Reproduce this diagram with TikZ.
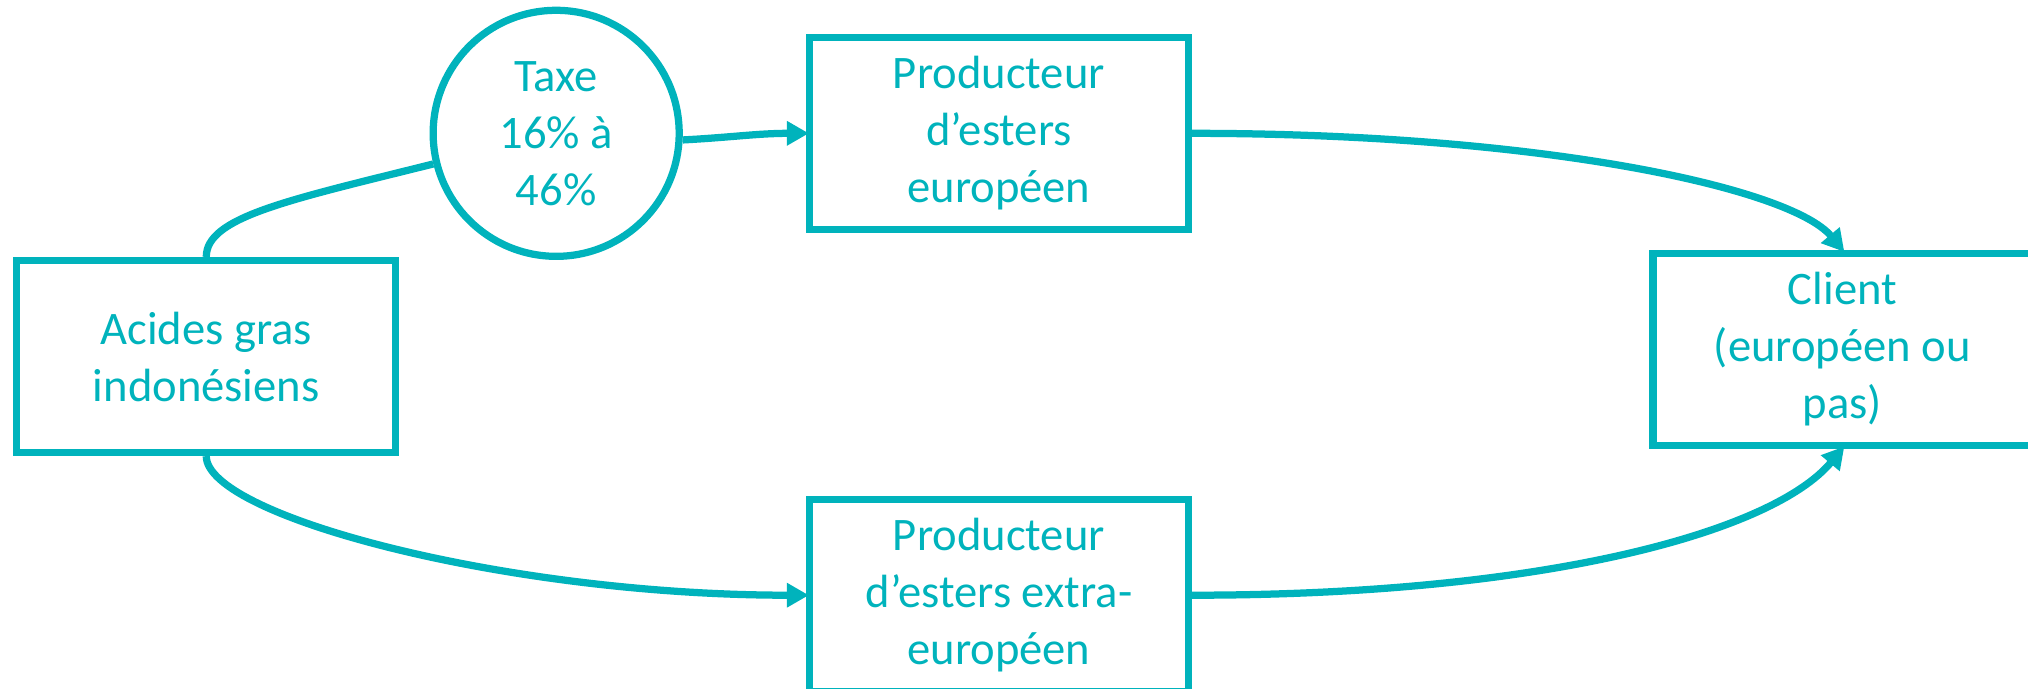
\documentclass[tikz,border=0pt]{standalone}
\usepackage{fontspec}
\setmainfont{Carlito}
\usepackage{tikz}
\usetikzlibrary{arrows.meta,shapes}
\definecolor{tealblue}{RGB}{0,179,188}
\tikzstyle{box}=[rectangle,draw=tealblue,line width=2.8pt,minimum width=5.145cm,minimum height=2.606cm,inner sep=0pt,align=center,text=tealblue,font=\fontsize{18}{22}\selectfont]
\tikzstyle{taxe}=[circle,draw=tealblue,line width=2.8pt,minimum size=3.34cm,inner sep=0pt,align=center,text=tealblue,font=\fontsize{18}{22}\selectfont]
\tikzstyle{edge} = [draw=tealblue,line width=2.8pt,-{Triangle[length=8.5pt,width=9pt]},shorten >=-1.2pt]
\tikzstyle{link} = [draw=tealblue,line width=2.8pt]

\begin{document}
\begin{tikzpicture}[scale=1]
    \useasboundingbox (0,0) rectangle (27.53,-9.353);

    \foreach \pos/ \name/ \txt in {{(2.80,-4.84)/acides/{Acides gras\\indonésiens}}, {(13.56,-1.81)/prodeu/{Producteur\\d’esters\\européen}}, {(13.56,-8.08)/prodext/{Producteur\\d’esters extra-\\européen}}, {(25.01,-4.74)/client/{Client\\(européen ou\\pas)}}}
        \node[box] (\name) at \pos {\txt};

    \node[taxe] (t) at (7.55,-1.81) {Taxe\\16\% à\\46\%};

    % European route, through the tax
    \draw[link] (acides.north) to [out=90, in=194, out distance=0.54cm, in distance=2.04cm] (t.194);
    \draw[edge] (t.-3) to [out=3, in=180] (prodeu.west);
    \draw[edge] (prodeu.east) to [out=0, in=130, out distance=4.75cm, in distance=1.09cm] (client.north);

    % route outside Europe
    \draw[edge] (acides.south) to [out=-90, in=180, out distance=0.81cm, in distance=4.07cm] (prodext.west);
    \draw[edge] (prodext.east) to [out=0, in=-130, out distance=4.75cm, in distance=1.49cm] (client.south);

\end{tikzpicture}
\end{document}
